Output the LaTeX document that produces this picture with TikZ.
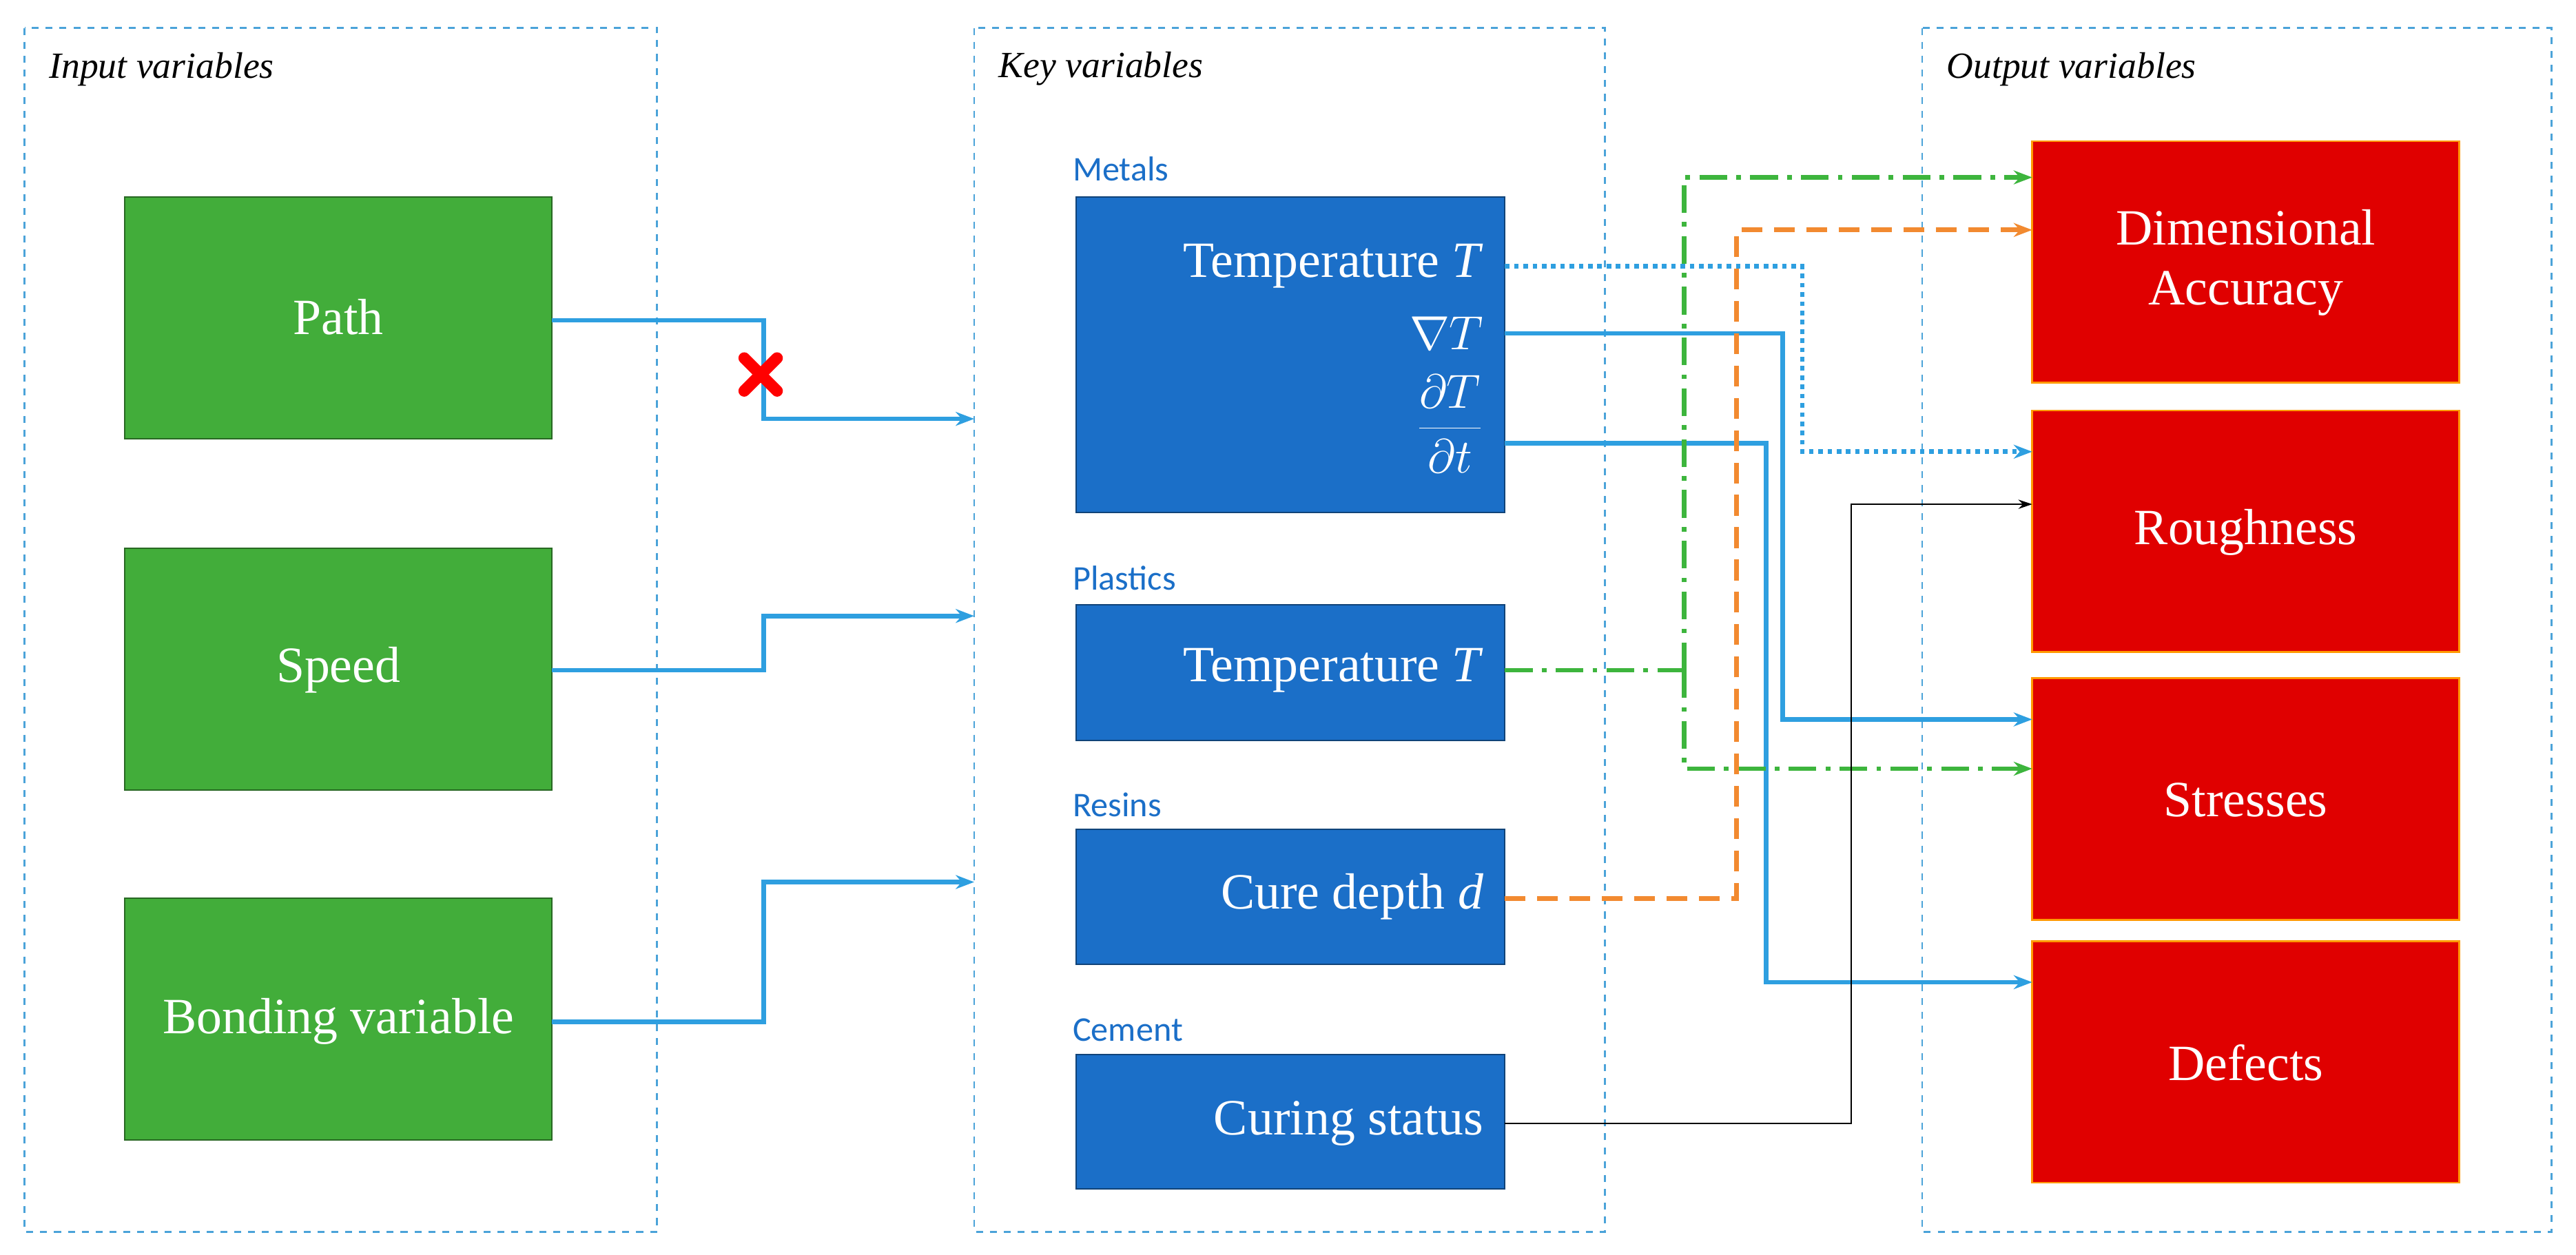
\documentclass[tikz,border=0pt]{standalone}
\usepackage{fontspec}
\setmainfont{Liberation Serif}
\newfontfamily\lab{Carlito}
\usetikzlibrary{arrows.meta}
\definecolor{gbox}{HTML}{42AD3A}
\definecolor{bbox}{HTML}{1B6FC8}
\definecolor{rbox}{HTML}{E00000}
\definecolor{pan}{HTML}{4BA3D9}
\definecolor{arb}{HTML}{2E9FE0}
\definecolor{aro}{HTML}{F28A30}
\definecolor{arg}{HTML}{3DB53D}
\begin{document}
\begin{tikzpicture}[x=0.025cm,y=-0.025cm,
 panel/.style={draw=pan,dashed,line width=0.8pt},
 gb/.style={fill=gbox,draw=gbox!60!black,line width=0.6pt},
 bb/.style={fill=bbox,draw=bbox!60!black,line width=0.6pt},
 rb/.style={fill=rbox,draw=orange!80!yellow,line width=0.8pt},
 big/.style={font=\fontsize{22}{26}\selectfont,text=white,align=center},
 ttl/.style={font=\fontsize{16}{19}\selectfont\itshape,anchor=west},
 lb/.style={font=\lab\fontsize{15}{18}\selectfont,text=bbox,anchor=west},
 ar/.style={line width=2pt,-{Stealth[length=8pt,width=6pt]}},
 ln/.style={line width=2pt},
 cross/.style={red,line width=5pt,line cap=round}]
\useasboundingbox (0,0) rectangle (1568,764);
\draw[panel] (15,17) rectangle (400,750);
\draw[panel] (593,17) rectangle (977,750);
\draw[panel] (1170,17) rectangle (1553,750);
\node[ttl] at (25,42) {Input variables};
\node[ttl] at (603,42) {Key variables};
\node[ttl] at (1180,42) {Output variables};
% green
\draw[gb] (76,120) rectangle (336,267); \node[big] (path) at (206,193) {Path};
\draw[gb] (76,334) rectangle (336,481); \node[big] (speed) at (206,408) {Speed};
\draw[gb] (76,547) rectangle (336,694); \node[big] (bond) at (206,622) {Bonding variable};
% blue
\draw[bb] (655,120) rectangle (916,312);
\draw[bb] (655,368) rectangle (916,451);
\draw[bb] (655,505) rectangle (916,587);
\draw[bb] (655,642) rectangle (916,724);
\node[lb] at (648,103) {Metals};
\node[lb] at (648,352) {Plastics};
\node[lb] at (648,490) {Resins};
\node[lb] at (648,627) {Cement};
\node[big,anchor=east] (mt) at (908,162) {Temperature \textit{T}};
\node[big,anchor=east] (gt) at (908,203) {$\nabla T$};
\node[big,anchor=east] (dt) at (908,258) {$\displaystyle\frac{\partial T}{\partial t}$};
\node[big,anchor=east] (pt) at (908,408) {Temperature \textit{T}};
\node[big,anchor=east] (cd) at (908,546) {Cure depth \textit{d}};
\node[big,anchor=east] (cs) at (908,684) {Curing status};
% red
\draw[rb] (1237,86) rectangle (1497,233); \node[big] (dim) at (1367,160) {Dimensional\\Accuracy};
\draw[rb] (1237,250) rectangle (1497,397); \node[big] (rou) at (1367,324) {Roughness};
\draw[rb] (1237,413) rectangle (1497,560); \node[big] (str) at (1367,487) {Stresses};
\draw[rb] (1237,573) rectangle (1497,720); \node[big] (def) at (1367,647) {Defects};
\coordinate (i1) at (593,255); \coordinate (i2) at (593,375); \coordinate (i3) at (593,537);
% input arrows
\draw[ar,arb] (336,195) -| (465,255) -- (i1);
\draw[ar,arb] (336,408) -| (465,375) -- (i2);
\draw[ar,arb] (336,622) -| (465,537) -- (i3);
\coordinate (x) at (463,228);
\draw[cross] (453,218) -- (473,238);
\draw[cross] (453,238) -- (473,218);
% outputs
\draw[ar,arb,dotted] (916,162) -| (1097,275) -- (1237,275);
\draw[ar,arb] (916,203) -| (1085,438) -- (1237,438);
\draw[ar,arb] (916,270) -| (1075,598) -- (1237,598);
\draw[ln,arg,dash pattern=on 12pt off 4pt on 2pt off 4pt] (916,408) -- (1025,408);
\draw[ar,arg,dash pattern=on 12pt off 4pt on 2pt off 4pt] (1025,408) |- (1237,108);
\draw[ar,arg,dash pattern=on 12pt off 4pt on 2pt off 4pt] (1025,408) |- (1237,468);
\draw[ar,aro,dash pattern=on 9pt off 5pt] (916,547) -| (1057,140) -- (1237,140);
\draw[black,line width=0.6pt,-{Stealth[length=6pt,width=4pt]}] (916,684) -| (1127,307) -- (1237,307);
\end{tikzpicture}
\end{document}
